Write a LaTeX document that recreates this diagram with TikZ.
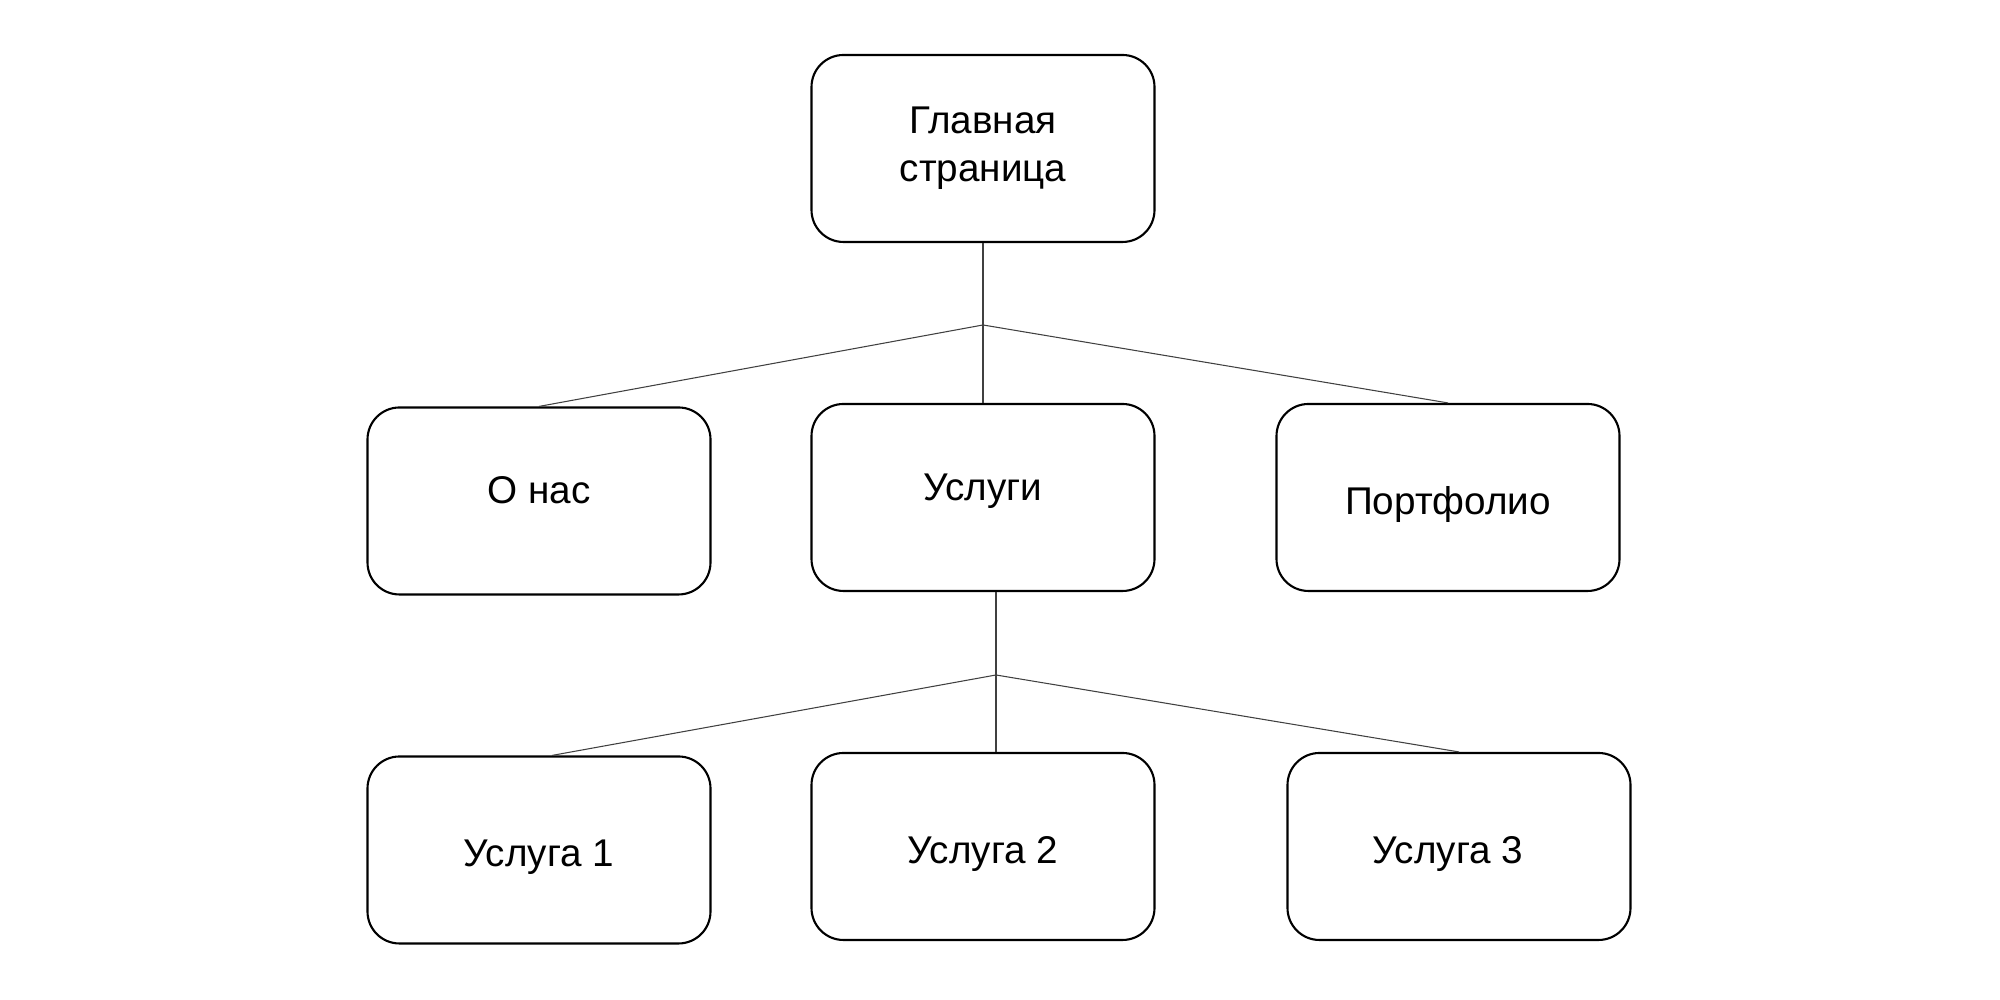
\documentclass[tikz,border=0pt]{standalone}
\usepackage{fontspec}
\setmainfont{Liberation Sans}
\usetikzlibrary{positioning}
\begin{document}
\begin{tikzpicture}
\tikzstyle{page}=[draw=black,line width=0.6pt,rounded corners=0.32cm,minimum width=3.43cm,minimum height=1.87cm,align=center,font=\fontsize{11}{13.6}\selectfont]
\tikzstyle{one}=[text height=0.34cm,text depth=0cm]
\tikzstyle{link}=[draw=black!75,line width=0.3pt]
\useasboundingbox (0,0) rectangle (20,10);
\node [page,yshift=-0.03cm,minimum height=1.87cm] at (9.83,8.545) (main) {Главная\\страница};
\node [page,one,text depth=0.28cm] at (5.39,4.99) (about) {О нас};
\node [page,one,text depth=0.28cm] at (9.83,5.025) (serv) {Услуги};
\node [page,one] at (14.48,5.025) (port) {Портфолио};
\node [page,one] at (5.39,1.50) (s1) {Услуга 1};
\node [page,one] at (9.83,1.535) (s2) {Услуга 2};
\node [page,one] at (14.59,1.535) (s3) {Услуга 3\hspace*{0.22cm}};
\coordinate (j1) at (9.83,6.75);
\coordinate (j2) at (9.96,3.25);

\draw [link] (main) -- (j1);
\draw [link] (j1) -- (about.north);
\draw [link] (j1) -- (serv.north);
\draw [link] (j1) -- (port.north);

\draw [link] (serv.south -| j2) -- (j2);
\draw [link] (j2) -- ([xshift=0.13cm]s1.north);
\draw [link] (j2) -- (s2.north -| j2);
\draw [link] (j2) -- (s3.north);
\end{tikzpicture}
\end{document}
